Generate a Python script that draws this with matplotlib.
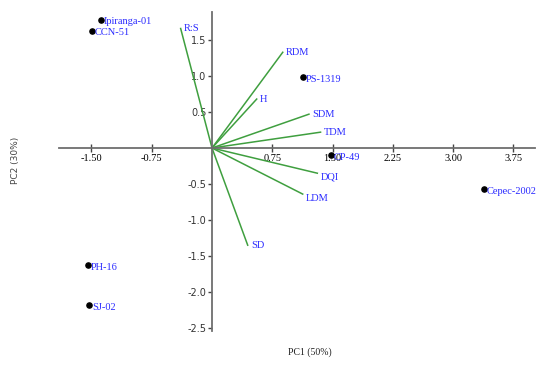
import numpy as np
import matplotlib.pyplot as plt

# genotype scores
genotypes = ['Ipiranga-01', 'CCN-51', 'PS-1319', 'CP-49', 'Cepec-2002', 'PH-16', 'SJ-02']
gen_pc1 = [-1.385, -1.49, 1.128, 1.476, 3.38, -1.54, -1.53]
gen_pc2 = [1.78, 1.63, 0.98, -0.097, -0.57, -1.63, -2.18]

# variable loadings
variables = ['R:S', 'RDM', 'H', 'SDM', 'TDM', 'DQI', 'LDM', 'SD']
var_pc1 = [-0.39, 0.88, 0.556, 1.206, 1.35, 1.31, 1.128, 0.444]
var_pc2 = [1.66, 1.33, 0.68, 0.47, 0.22, -0.35, -0.64, -1.35]

xticks = [-1.5, -0.75, 0.75, 1.5, 2.25, 3.0, 3.75]
xticklabels = ['-1.50', '-0.75', '0.75', '1.50', '2.25', '3.00', '3.75']
yticks = [1.5, 1.0, 0.5, -0.5, -1.0, -1.5, -2.0, -2.5]
yticklabels = ['1.5', '1.0', '0.5', '-0.5', '-1.0', '-1.5', '-2.0', '-2.5']

blue = '#2a2aff'
green = '#3f9f3f'
grey = '#6e6e6e'
serif = ['Liberation Serif', 'DejaVu Serif']

fig = plt.figure(figsize=(5.5, 3.68), dpi=100)
ax = fig.add_axes([0, 0, 1, 1])
ax.set_xlim(-2.637, 4.204)
ax.set_ylim(-3.056, 2.056)

for s in ['top', 'right']:
    ax.spines[s].set_visible(False)
ax.spines['left'].set_position(('data', 0))
ax.spines['bottom'].set_position(('data', 0))
ax.spines['left'].set_bounds(-2.54, 1.89)
ax.spines['bottom'].set_bounds(-1.9, 4.02)
for s in ['left', 'bottom']:
    ax.spines[s].set_color(grey)
    ax.spines[s].set_linewidth(1.3)

ax.set_xticks(xticks)
ax.set_xticklabels(xticklabels, fontfamily=serif, fontsize=7.5)
ax.set_yticks(yticks)
ax.set_yticklabels(yticklabels, fontsize=7, color='#333333')
ax.tick_params(axis='x', direction='inout', length=6, width=1, color='#444444', pad=1)
ax.tick_params(axis='y', direction='out', length=3, width=1, color='#444444', pad=1)

# loading vectors
for name, x, y in zip(variables, var_pc1, var_pc2):
    ax.plot([0, x], [0, y], color=green, lw=1.1)
    dy = -3 if name in ('DQI', 'LDM') else 0
    ax.annotate(name, (x, y), xytext=(2.5, dy), textcoords='offset points',
                ha='left', va='center', color=blue, fontsize=7.5, fontfamily=serif)

# genotype points
ax.scatter(gen_pc1, gen_pc2, s=14, color='black', zorder=3)
for name, x, y in zip(genotypes, gen_pc1, gen_pc2):
    ax.annotate(name, (x, y), xytext=(2, -1.5), textcoords='offset points',
                ha='left', va='center', color=blue, fontsize=7.5, fontfamily=serif)

ax.text(1.22, -2.83, 'PC1 (50%)', ha='center', va='center', fontsize=7,
        fontfamily=serif, color='#222222')
ax.text(-2.45, -0.17, 'PC2 (30%)', ha='center', va='center', rotation=90,
        fontsize=6.5, color='#444444')

fig.savefig('out.png', dpi=100)
